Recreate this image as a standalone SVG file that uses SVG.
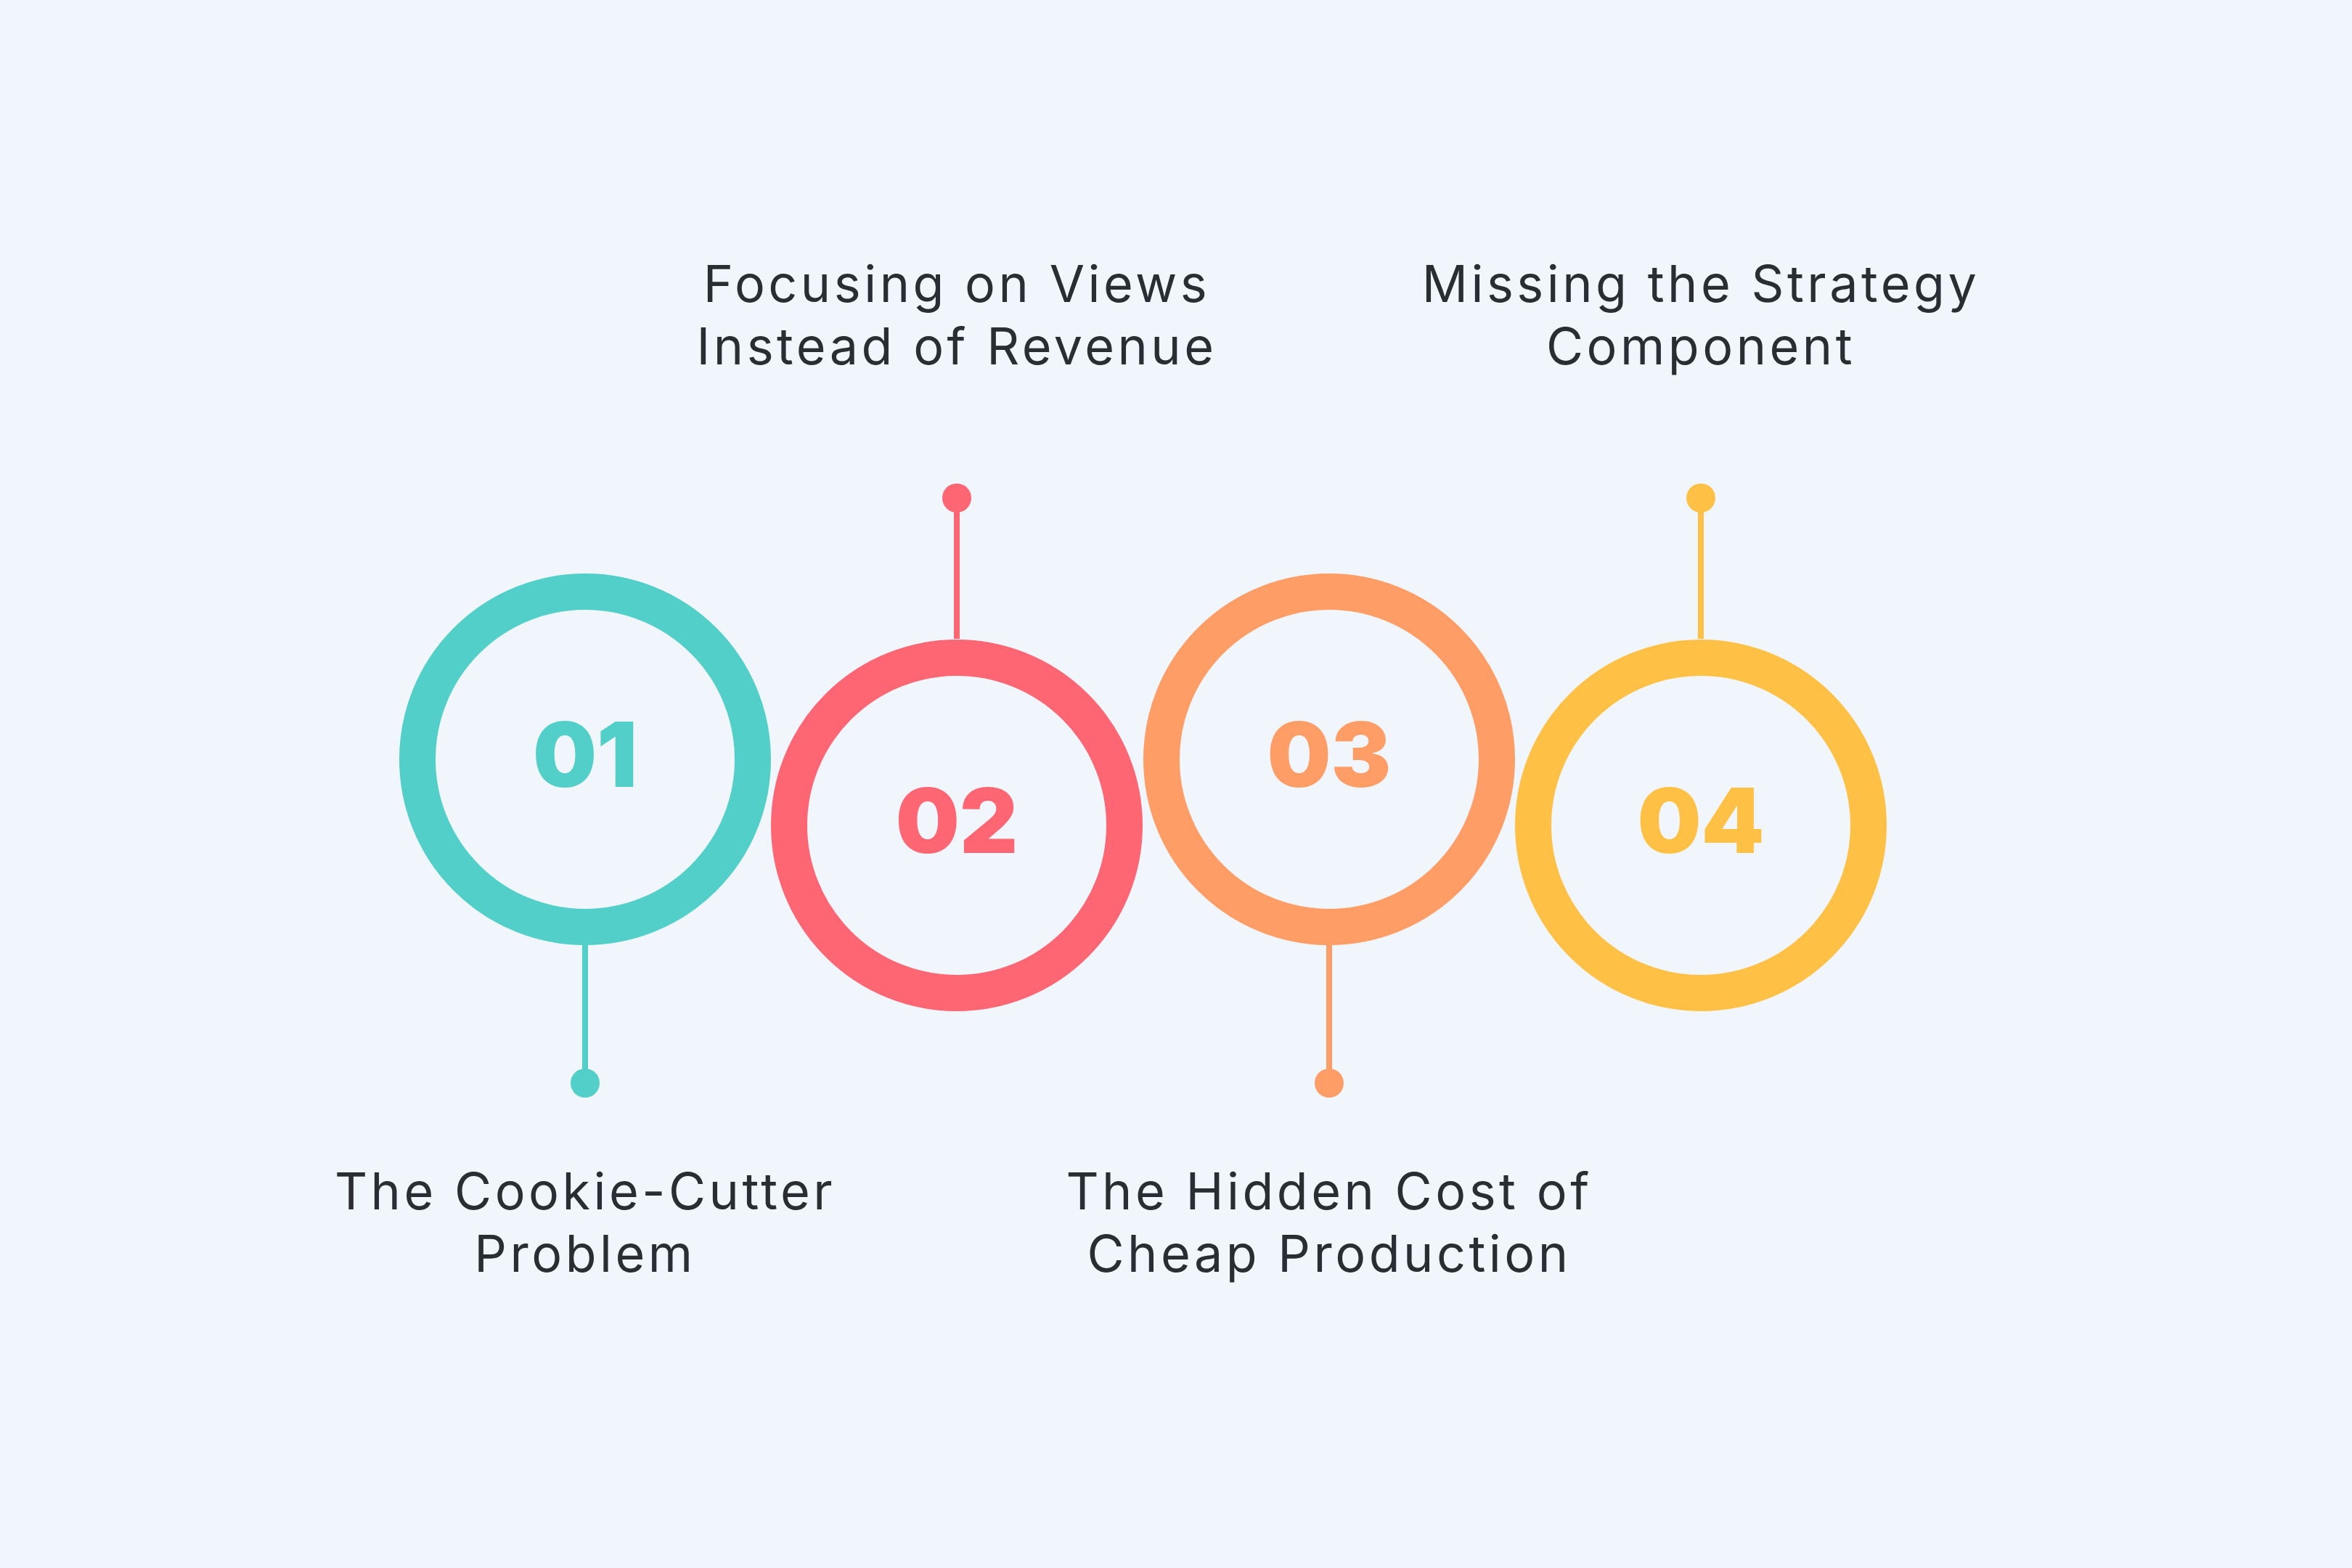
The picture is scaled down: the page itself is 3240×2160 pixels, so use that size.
<svg xmlns="http://www.w3.org/2000/svg" width="3240" height="2160" viewBox="0 0 3240 2160">
<style>
.ring{fill:none;stroke-width:50}
.stem{stroke-width:8}
.num{font-family:Inter,"Liberation Sans",sans-serif;font-weight:900;font-size:124px;text-anchor:middle}
.lbl{font-family:Inter,"Liberation Sans",sans-serif;font-size:70px;fill:#2A2D33;text-anchor:middle;letter-spacing:4.5px}
</style>
<rect width="3240" height="2160" fill="#F1F6FD"/>
<g id="connectors">
<line class="stem" x1="806" y1="1300" x2="806" y2="1492" stroke="#52CFC9"/>
<circle cx="806" cy="1492" r="20" fill="#52CFC9"/>
<line class="stem" x1="1318" y1="880" x2="1318" y2="686" stroke="#FF6673"/>
<circle cx="1318" cy="686" r="20" fill="#FF6673"/>
<line class="stem" x1="1831" y1="1300" x2="1831" y2="1492" stroke="#FF9D66"/>
<circle cx="1831" cy="1492" r="20" fill="#FF9D66"/>
<line class="stem" x1="2343" y1="880" x2="2343" y2="686" stroke="#FFC145"/>
<circle cx="2343" cy="686" r="20" fill="#FFC145"/>
</g>
<g id="node1">
<circle class="ring" cx="806" cy="1046" r="231" stroke="#52CFC9"/>
<text class="num" x="806" y="1084" fill="#52CFC9">01</text>
<text class="lbl" x="806" y="1666">The Cookie-Cutter</text>
<text class="lbl" x="806" y="1752">Problem</text>
</g>
<g id="node2">
<circle class="ring" cx="1318" cy="1137" r="231" stroke="#FF6673"/>
<text class="num" x="1318" y="1175" fill="#FF6673">02</text>
<text class="lbl" x="1318" y="416">Focusing on Views</text>
<text class="lbl" x="1318" y="502">Instead of Revenue</text>
</g>
<g id="node3">
<circle class="ring" cx="1831" cy="1046" r="231" stroke="#FF9D66"/>
<text class="num" x="1831" y="1084" fill="#FF9D66">03</text>
<text class="lbl" x="1831" y="1666">The Hidden Cost of</text>
<text class="lbl" x="1831" y="1752">Cheap Production</text>
</g>
<g id="node4">
<circle class="ring" cx="2343" cy="1137" r="231" stroke="#FFC145"/>
<text class="num" x="2343" y="1175" fill="#FFC145">04</text>
<text class="lbl" x="2343" y="416">Missing the Strategy</text>
<text class="lbl" x="2343" y="502">Component</text>
</g>
</svg>
